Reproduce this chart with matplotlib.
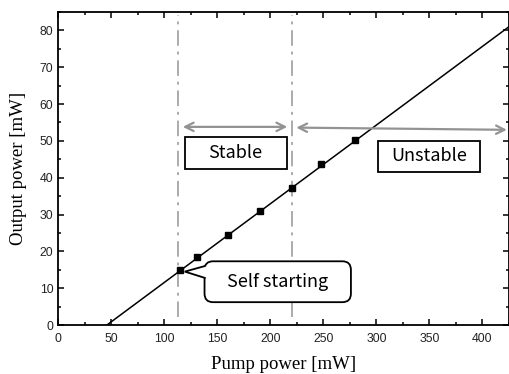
import numpy as np
import matplotlib
matplotlib.use('Agg')
from matplotlib import pyplot as plt
from matplotlib.ticker import MultipleLocator
from matplotlib.patches import Rectangle, FancyBboxPatch, Polygon

# measured points (pump power, output power)
pump = [115, 130.5, 160, 190, 220, 248, 279.5]
output = [15.0, 18.5, 24.4, 31.0, 37.2, 43.8, 50.2]

# linear fit endpoints
fit_x = [46, 425]
fit_y = [0, 81.0]

# regime boundaries
x_self = 113
x_limit = 220.5

fig = plt.figure(figsize=(5.1, 3.74), dpi=100)
ax = fig.add_axes([0.114, 0.131, 0.884, 0.837])

ax.plot(fit_x, fit_y, color='black', linewidth=1.1, zorder=3)
ax.plot(pump, output, linestyle='none', marker='s', markersize=4.5,
        color='black', zorder=4)

for xv in [x_self, x_limit]:
    ax.plot([xv, xv], [2.3, 84.3], color='#ababab', linestyle='-.',
            linewidth=1.4, dashes=(8, 3, 1.5, 3), zorder=1)

gray = '#939393'
arr = dict(arrowstyle='<->,head_length=0.6,head_width=0.3',
           color=gray, lw=1.6, shrinkA=0, shrinkB=0)
ax.annotate('', xy=(117.5, 53.8), xytext=(216, 53.8), arrowprops=arr)
ax.annotate('', xy=(224.5, 53.6), xytext=(423, 53.0), arrowprops=arr)

box_font = ['Noto Sans CJK KR', 'DejaVu Sans']

# Stable / Unstable boxes
ax.add_patch(Rectangle((119.4, 42.4), 95.9, 8.6, fc='white', ec='black',
                       lw=1.3, zorder=5))
ax.text(167.3, 46.8, 'Stable', ha='center', va='center', fontsize=13,
        family=box_font, zorder=6)
ax.add_patch(Rectangle((301.8, 41.6), 95.9, 8.4, fc='white', ec='black',
                       lw=1.3, zorder=5))
ax.text(349.7, 45.9, 'Unstable', ha='center', va='center', fontsize=13,
        family=box_font, zorder=6)

# Self starting callout
ax.add_patch(FancyBboxPatch((138, 6.2), 138, 11.1,
                            boxstyle='round,pad=0,rounding_size=8',
                            mutation_aspect=0.29,
                            fc='white', ec='black', lw=1.3, zorder=5))
ax.add_patch(Polygon([(139.5, 16.0), (119.4, 14.5), (139.5, 12.8)],
                     closed=True, fc='white', ec='none', zorder=6))
ax.plot([138.2, 119.4, 138.2], [16.0, 14.5, 12.8], color='black',
        lw=1.3, zorder=7, solid_joinstyle='miter')
ax.text(207, 11.7, 'Self starting', ha='center', va='center', fontsize=13,
        family=box_font, zorder=8)

ax.set_xlim(0, 425)
ax.set_ylim(0, 85)
ax.xaxis.set_major_locator(MultipleLocator(50))
ax.xaxis.set_minor_locator(MultipleLocator(25))
ax.yaxis.set_major_locator(MultipleLocator(10))
ax.yaxis.set_minor_locator(MultipleLocator(5))
ax.tick_params(axis='both', which='both', direction='in', top=True, right=True,
               labelsize=8.8, width=1.1, colors='black', labelcolor='#222222')
ax.tick_params(which='major', length=4.5)
ax.tick_params(which='minor', length=2.5)
ax.tick_params(axis='x', pad=6)
for lab in ax.get_xticklabels() + ax.get_yticklabels():
    lab.set_family('Liberation Sans')
for sp in ax.spines.values():
    sp.set_linewidth(1.3)

ax.set_xlabel('Pump power [mW]', fontsize=13.5, family='Liberation Serif', labelpad=8)
ax.set_ylabel('Output power [mW]', fontsize=13.5, family='Liberation Serif', labelpad=9)

plt.savefig('out.png', dpi=100)
